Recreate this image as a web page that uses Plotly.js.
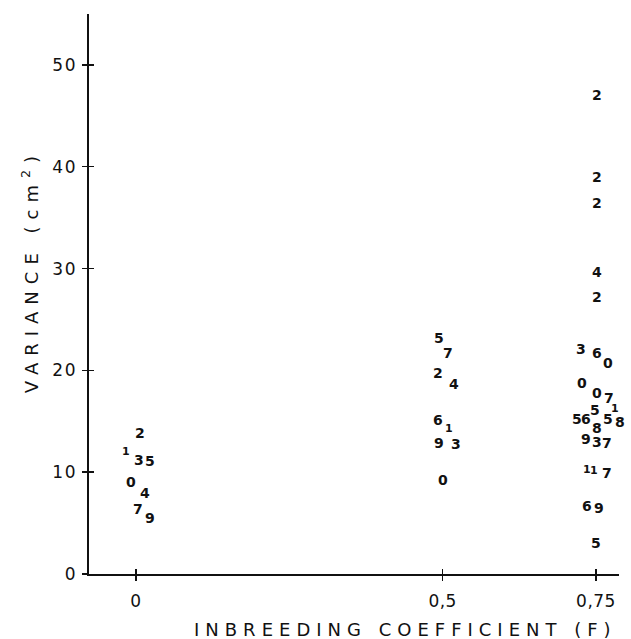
<!DOCTYPE html>
<html>
<head>
<meta charset="utf-8">
<script src="https://cdn.plot.ly/plotly-3.0.1.min.js"></script>
<style>
html,body{margin:0;padding:0;background:#fff;}
#chart{width:631px;height:639px;}
.ytick text{letter-spacing:1.5px;}
.xtick text{letter-spacing:0.5px;}
</style>
</head>
<body>
<div id="chart"></div>
<script>
// Inbreeding coefficient (F) of each group
const F_values = [0, 0.5, 0.75];
const F_tickText = ["0", "0,5", "0,75"];
const yTickVals = [0, 10, 20, 30, 40, 50];

// F = 0
const f0_labels   = ["2", "1", "3", "5", "0", "4", "7", "9"];
const f0_variance = [13.8, 12.0, 11.2, 11.1, 9.0, 8.0, 6.4, 5.5];
// F = 0.5
const f05_labels   = ["5", "7", "2", "4", "6", "1", "9", "3", "0"];
const f05_variance = [23.2, 21.7, 19.7, 18.7, 15.1, 14.3, 12.9, 12.8, 9.2];
// F = 0.75
const f075_labels   = ["2", "2", "2", "4", "2", "3", "6", "0", "0", "0", "7", "5", "1", "5", "6", "8", "5", "8", "9", "3", "7", "1", "1", "7", "6", "9", "5"];
const f075_variance = [47.0, 39.0, 36.4, 29.7, 27.2, 22.1, 21.7, 20.7, 18.8, 17.8, 17.3, 16.1, 16.3, 15.2, 15.2, 14.3, 15.2, 14.9, 13.3, 13.0, 12.9, 10.3, 10.2, 9.9, 6.7, 6.5, 3.0];

// horizontal spreading of the digits (pixels) so they don't overlap
const f0_shift   = [4, -10, 3, 14, -5, 9, 2, 14];
const f05_shift  = [-4, 5, -5, 11, -5, 6, -4, 13, 0];
const f075_shift = [1, 1, 1, 1, 1, -15, 1, 12, -14, 1, 13, -1, 19, -19, -10, 1, 12, 24, -10, 1, 11, -9, -2, 11, -9, 3, 0];

const groups = [
  {F: F_values[0], labels: f0_labels,  v: f0_variance,  s: f0_shift},
  {F: F_values[1], labels: f05_labels, v: f05_variance, s: f05_shift},
  {F: F_values[2], labels: f075_labels, v: f075_variance, s: f075_shift}
];

const FONT = "DejaVu Sans, Liberation Sans, sans-serif";
const annotations = [];
groups.forEach(g => {
  g.labels.forEach((lab, i) => {
    const small = (lab === "1");
    annotations.push({
      x: g.F, y: g.v[i], xref: "x", yref: "y",
      text: "<b>" + lab + "</b>", showarrow: false, xshift: g.s[i],
      xanchor: "center", yanchor: "middle",
      font: {family: FONT, size: small ? 11 : 14, color: "#111"}
    });
  });
});

// axis titles
annotations.push({
  xref: "paper", yref: "paper", x: 0.597, y: -0.099,
  xanchor: "center", yanchor: "middle", showarrow: false,
  text: "INBREEDING\u00a0COEFFICIENT\u00a0(F)",
  font: {family: FONT, size: 18, color: "#111"}
});
annotations.push({
  xref: "paper", yref: "paper", x: -0.112, y: 0.54,
  xanchor: "center", yanchor: "middle", showarrow: false, textangle: -90,
  text: "VARIANCE\u00a0(cm<sup>2</sup>)",
  font: {family: FONT, size: 18, color: "#111"}
});

const xRange = [-0.0766, 0.7875];
const yRange = [0, 55];
const tickFont = {family: FONT, size: 17, color: "#111"};

const traces = [
  {x: [], y: [], type: "scatter", mode: "markers", hoverinfo: "skip", showlegend: false},
  {x: [], y: [], xaxis: "x2", yaxis: "y2", type: "scatter", mode: "markers", hoverinfo: "skip", showlegend: false}
];

const layout = {
  width: 631, height: 639,
  margin: {l: 89, r: 12, t: 14, b: 65},
  paper_bgcolor: "#fff", plot_bgcolor: "rgba(0,0,0,0)",
  showlegend: false,
  xaxis: {
    range: xRange, showgrid: false, zeroline: false,
    showline: true, linecolor: "#111", linewidth: 1.6,
    tickmode: "array", tickvals: F_values, ticktext: F_tickText,
    ticks: "outside", ticklen: 5, tickwidth: 1.5, tickcolor: "#111",
    ticklabelstandoff: 6, tickfont: tickFont
  },
  yaxis: {
    range: yRange, showgrid: false, zeroline: false,
    showline: true, linecolor: "#111", linewidth: 1.6,
    tickmode: "array", tickvals: yTickVals,
    ticks: "outside", ticklen: 5, tickwidth: 1.5, tickcolor: "#111",
    ticklabelstandoff: 2, tickfont: tickFont
  },
  xaxis2: {
    overlaying: "x", anchor: "y2", range: xRange, showgrid: false, zeroline: false,
    showline: false, tickmode: "array", tickvals: F_values,
    ticks: "inside", ticklen: 5, tickwidth: 1.5, tickcolor: "#111", showticklabels: false
  },
  yaxis2: {
    overlaying: "y", anchor: "x2", range: yRange, showgrid: false, zeroline: false,
    showline: false, tickmode: "array", tickvals: yTickVals.slice(1),
    ticks: "inside", ticklen: 5, tickwidth: 1.5, tickcolor: "#111", showticklabels: false
  },
  annotations: annotations
};

Plotly.newPlot("chart", traces, layout, {staticPlot: true}).then(() => {
  document.querySelectorAll(".annotation-text").forEach(el => {
    const t = el.textContent;
    if (t.indexOf("INBREEDING") >= 0) el.style.letterSpacing = "6px";
    if (t.indexOf("VARIANCE") >= 0) el.style.letterSpacing = "7px";
  });
});
</script>
</body>
</html>
